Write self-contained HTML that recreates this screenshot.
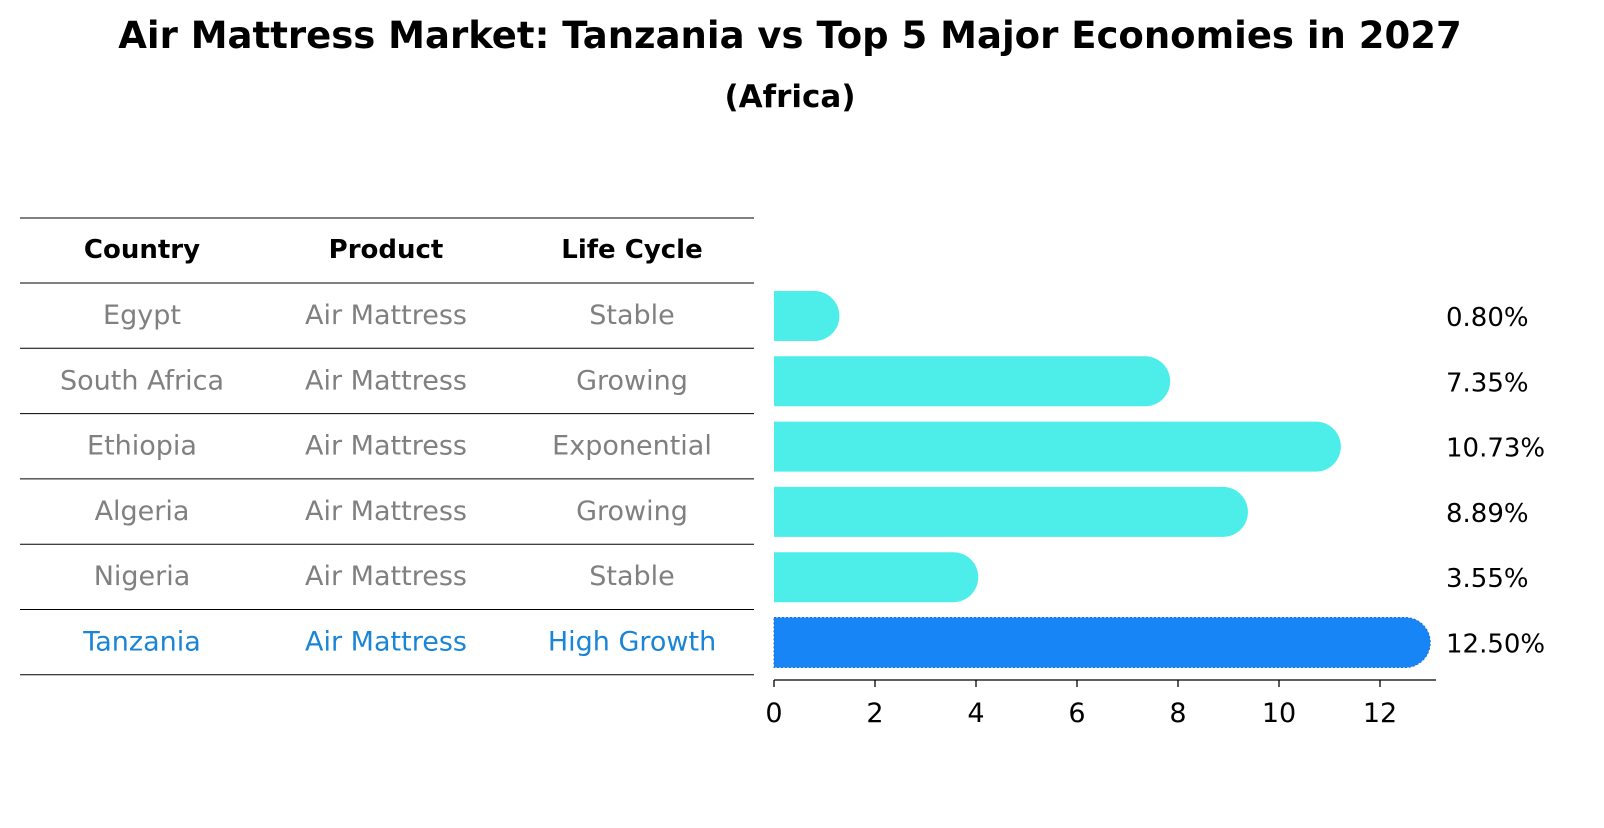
<!DOCTYPE html>
<html><head><meta charset="utf-8"><style>
body{margin:0;background:#fff;overflow:hidden}
</style></head><body>
<svg width="1604" height="823" xmlns="http://www.w3.org/2000/svg" font-family="'DejaVu Sans', 'Liberation Sans', sans-serif">
<text x="790" y="48" text-anchor="middle" font-size="37" font-weight="bold">Air Mattress Market: Tanzania vs Top 5 Major Economies in 2027</text>
<text x="790" y="107" text-anchor="middle" font-size="31" font-weight="bold">(Africa)</text>
<g id="table"></g>
<g id="bars"></g>
<g id="axis"></g>
</svg>
<script>
const countries=["Egypt","South Africa","Ethiopia","Algeria","Nigeria","Tanzania"];
const products=["Air Mattress","Air Mattress","Air Mattress","Air Mattress","Air Mattress","Air Mattress"];
const lifeCycles=["Stable","Growing","Exponential","Growing","Stable","High Growth"];
const values=[0.80,7.35,10.73,8.89,3.55,12.50];
const valueLabels=["0.80%","7.35%","10.73%","8.89%","3.55%","12.50%"];
const ticks=[0,2,4,6,8,10,12];
const NS="http://www.w3.org/2000/svg";
function mk(tag,attrs,parent,text){const e=document.createElementNS(NS,tag);for(const k in attrs)e.setAttribute(k,attrs[k]);if(text!==undefined)e.textContent=text;parent.appendChild(e);return e;}
const x0=774,scale=50.5;
const xs=v=>x0+v*scale;
const rowTop=i=>283+i*65.3;
const table=document.getElementById('table'),bars=document.getElementById('bars'),axis=document.getElementById('axis');
const colX=[142,386,632];
["Country","Product","Life Cycle"].forEach((h,j)=>{const t=mk('text',{x:colX[j],y:258,'text-anchor':'middle','font-size':26,'font-weight':'bold'},table,h);});
for(let k=0;k<=countries.length+1;k++){const y=k===0?218:rowTop(k-1);const l=mk('line',{x1:20,x2:754,y1:y,y2:y,stroke:'#000','stroke-width':1},table);}
countries.forEach((c,i)=>{
 const last=i===countries.length-1;const col=last?'#1a85d6':'#808080';const cy=rowTop(i)+41;
 [c,products[i],lifeCycles[i]].forEach((s,j)=>{const t=mk('text',{x:colX[j],y:cy,'text-anchor':'middle','font-size':27,fill:col},table,s);});
 const bc=rowTop(i)+33;const h=50;const xe=xs(values[i]);
 const p=mk('path',{d:`M${x0},${bc-h/2} H${xe} A${h/2},${h/2} 0 0 1 ${xe},${bc+h/2} H${x0} Z`,fill:last?'#1785f5':'#4deeea',stroke:last?'#1a6fd0':'none','stroke-dasharray':last?'2,2':'none'},bars);
 
 const t=mk('text',{x:1446,y:bc+10,'font-size':26},bars,valueLabels[i]);
});
const l=mk('line',{x1:x0,x2:1436,y1:680,y2:680,stroke:'#000','stroke-width':1.3},axis);
ticks.forEach(v=>{const tl=mk('line',{x1:xs(v),x2:xs(v),y1:680,y2:687,stroke:'#000','stroke-width':1.3},axis);
 const t=mk('text',{x:xs(v),y:722,'text-anchor':'middle','font-size':27},axis,String(v));});
</script>
</body></html>
